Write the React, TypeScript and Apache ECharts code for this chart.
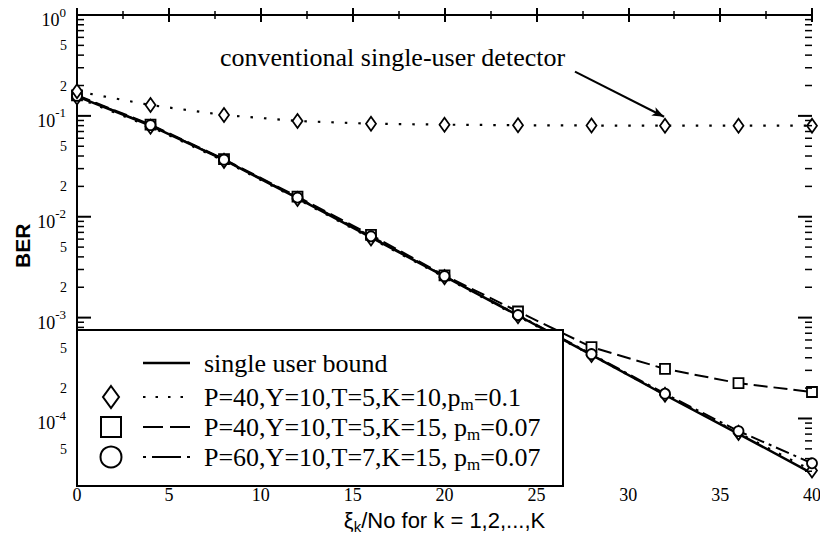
import React, { useEffect, useRef } from "react";
import * as echarts from "echarts";

// ---------------- data ----------------
const xValues = [0, 4, 8, 12, 16, 20, 24, 28, 32, 36, 40];
const berSingleUserBound = [0.156, 0.08, 0.0366, 0.0153, 0.00625, 0.00256, 0.00105, 0.000427, 0.000171, 0.0000705, 0.0000286];
const berP40K10 = [0.152, 0.078, 0.0358, 0.015, 0.0061, 0.00252, 0.00103, 0.000425, 0.000172, 0.000072, 0.0000305];
const berP40K15 = [0.16, 0.082, 0.0372, 0.0158, 0.0066, 0.00262, 0.00115, 0.00051, 0.00031, 0.000224, 0.000183];
const berP60K15 = [0.158, 0.081, 0.0368, 0.0155, 0.0064, 0.00258, 0.00106, 0.000435, 0.000176, 0.000075, 0.000036];
const berConventional = [0.175, 0.128, 0.102, 0.089, 0.0836, 0.0818, 0.0808, 0.0802, 0.08, 0.08, 0.08];

const legendLabels = [
  "single user bound",
  "P=40,Y=10,T=5,K=10,p{s|m}=0.1",
  "P=40,Y=10,T=5,K=15, p{s|m}=0.07",
  "P=60,Y=10,T=7,K=15, p{s|m}=0.07",
];
const annotationText = "conventional single-user detector";
const arrowFrom = [27.1, 0.275];
const arrowTo = [31.95, 0.098];

const xTickLabels = [0, 5, 10, 15, 20, 25, 30, 35, 40];
const yDecades = [0, -1, -2, -3, -4];
const yMinorMantissas = [2, 3, 4, 5, 6, 7, 8, 9];
const yLabelMantissas = [2, 5];
const berMin = 2.66e-5;
const berMax = 1;

// --------------- helpers ---------------
const SERIF = "Liberation Serif";
const SANS = "Liberation Sans";
const Y_MIN = Math.log10(berMin);
const Y_MAX = Math.log10(berMax);
const X_MIN = 0;
const X_MAX = 40;

const toPts = (arr: number[]) => xValues.map((x, i) => [x, Math.log10(arr[i])]);

const tickVals: number[] = [...yDecades];
const mantissaLabels: { v: number; m: number }[] = [];
for (let n = -1; n >= -5; n--) {
  yMinorMantissas.forEach((k) => {
    const v = n + Math.log10(k);
    if (v >= Y_MIN) tickVals.push(v);
  });
  yLabelMantissas.forEach((k) => {
    const v = n + Math.log10(k);
    if (v >= Y_MIN) mantissaLabels.push({ v, m: k });
  });
}

const isDecade = (v: number) => Math.abs(v - Math.round(v)) < 1e-6;

function buildOption() {
  const axisLine = { show: true, lineStyle: { color: "#000", width: 2 } };
  const markerStyle = { color: "#fff", borderColor: "#000", borderWidth: 1.8 };

  const legendRows = [363, 397, 427, 457];
  const lx0 = 143;
  const lx1 = 190;
  const mx = 111;
  const legendGraphics: any[] = [
    {
      type: "rect",
      shape: { x: 77, y: 330, width: 486, height: 156 },
      style: { fill: "#fff", stroke: "#000", lineWidth: 2 },
      z: 100,
    },
    {
      type: "line",
      shape: { x1: lx0, y1: legendRows[0], x2: lx1, y2: legendRows[0] },
      style: { stroke: "#000", lineWidth: 2.5 },
      z: 101,
    },
    {
      type: "line",
      shape: { x1: lx0, y1: legendRows[1], x2: lx1, y2: legendRows[1] },
      style: { stroke: "#000", lineWidth: 2.2, lineDash: [2.5, 10] },
      z: 101,
    },
    {
      type: "line",
      shape: { x1: lx0, y1: legendRows[2], x2: lx1, y2: legendRows[2] },
      style: { stroke: "#000", lineWidth: 2, lineDash: [20, 7] },
      z: 101,
    },
    {
      type: "line",
      shape: { x1: lx0, y1: legendRows[3], x2: lx1, y2: legendRows[3] },
      style: { stroke: "#000", lineWidth: 2, lineDash: [3, 6, 29, 6, 3] },
      z: 101,
    },
    {
      type: "polygon",
      shape: {
        points: [
          [mx, legendRows[1] - 11],
          [mx + 8, legendRows[1]],
          [mx, legendRows[1] + 11],
          [mx - 8, legendRows[1]],
        ],
      },
      style: { fill: "#fff", stroke: "#000", lineWidth: 2 },
      z: 101,
    },
    {
      type: "rect",
      shape: { x: mx - 10, y: legendRows[2] - 10, width: 20, height: 20 },
      style: { fill: "#fff", stroke: "#000", lineWidth: 2 },
      z: 101,
    },
    {
      type: "circle",
      shape: { cx: mx, cy: legendRows[3], r: 10.5 },
      style: { fill: "#fff", stroke: "#000", lineWidth: 2 },
      z: 101,
    },
    ...legendLabels.map((t, i) => ({
      type: "text",
      x: 204,
      y: legendRows[i],
      z: 101,
      style: {
        text: t,
        fill: "#000",
        fontFamily: SERIF,
        fontSize: 26,
        verticalAlign: "middle",
        align: "left",
        rich: {
          s: {
            fontFamily: SERIF,
            fontSize: 17,
            lineHeight: 17,
            padding: [14, 0, 0, 0],
            fill: "#000",
          },
        },
      },
    })),
    {
      type: "text",
      x: 220,
      y: 57,
      z: 101,
      style: {
        text: annotationText,
        fill: "#000",
        fontFamily: SERIF,
        fontSize: 26,
        verticalAlign: "middle",
        align: "left",
      },
    },
  ];

  const xAxisCommon = {
    type: "value",
    min: X_MIN,
    max: X_MAX,
    interval: 5,
    axisLine,
    splitLine: { show: false },
    axisTick: { show: true, inside: true, length: 7, lineStyle: { color: "#000", width: 2 } },
    minorTick: { show: true, splitNumber: 2, length: 4, lineStyle: { color: "#000", width: 1.5 } },
    axisLabel: { show: false },
  };
  const yAxisCommon = {
    type: "value",
    min: Y_MIN,
    max: Y_MAX,
    axisLine,
    splitLine: { show: false },
    axisTick: { show: false },
    axisLabel: { show: false },
  };

  return {
    animation: false,
    backgroundColor: "#fff",
    grid: { left: 77, right: 8, top: 15, bottom: 53, containLabel: false },
    xAxis: [
      {
        ...xAxisCommon,
        position: "bottom",
        name: "ξ{k|k}/No for k = 1,2,...,K",
        nameLocation: "middle",
        nameGap: 33,
        nameTextStyle: {
          color: "#000",
          fontFamily: SANS,
          fontSize: 22,
          rich: {
            k: { fontFamily: SANS, fontSize: 15, lineHeight: 15, padding: [12, 0, 0, 0], color: "#000" },
          },
        },
      },
      { ...xAxisCommon, position: "top" },
    ],
    yAxis: [
      {
        ...yAxisCommon,
        position: "left",
        name: "BER",
        nameLocation: "middle",
        nameRotate: 90,
        nameGap: 44,
        nameTextStyle: { color: "#000", fontFamily: SANS, fontSize: 21, fontWeight: "bold" },
      },
      { ...yAxisCommon, position: "right" },
    ],
    series: [
      {
        name: "single user bound",
        type: "line",
        data: toPts(berSingleUserBound),
        symbol: "none",
        lineStyle: { color: "#000", width: 2.5, type: "solid" },
        z: 2,
      },
      {
        name: "P=40,Y=10,T=5,K=10,pm=0.1",
        type: "line",
        data: toPts(berP40K10),
        symbol: "diamond",
        symbolSize: [10, 14],
        showAllSymbol: true,
        lineStyle: { color: "#000", width: 2.2, type: [2.5, 10], cap: "butt" },
        itemStyle: markerStyle,
        z: 3,
      },
      {
        name: "P=40,Y=10,T=5,K=15, pm=0.07",
        type: "line",
        data: toPts(berP40K15),
        symbol: "rect",
        symbolSize: 10,
        showAllSymbol: true,
        lineStyle: { color: "#000", width: 2, type: [14, 6] },
        itemStyle: markerStyle,
        z: 3,
      },
      {
        name: "P=60,Y=10,T=7,K=15, pm=0.07",
        type: "line",
        data: toPts(berP60K15),
        symbol: "circle",
        symbolSize: 10,
        showAllSymbol: true,
        lineStyle: { color: "#000", width: 2, type: [14, 5, 3, 5] },
        itemStyle: markerStyle,
        z: 3,
      },
      {
        name: "conventional single-user detector",
        type: "line",
        data: toPts(berConventional),
        symbol: "diamond",
        symbolSize: [10, 14],
        showAllSymbol: true,
        lineStyle: { color: "#000", width: 2.2, type: [2.5, 11], cap: "butt" },
        itemStyle: markerStyle,
        z: 3,
        markLine: {
          silent: true,
          symbol: ["none", "arrow"],
          symbolSize: [7, 12],
          label: { show: false },
          lineStyle: { color: "#000", width: 2, type: "solid" },
          data: [
            [
              { coord: [arrowFrom[0], Math.log10(arrowFrom[1])] },
              { coord: [arrowTo[0], Math.log10(arrowTo[1])] },
            ],
          ],
        },
      },
      // logarithmic y ticks on both sides, placed through the axis scales
      {
        name: "yTicks",
        type: "custom",
        silent: true,
        clip: false,
        data: tickVals.map((v) => [X_MIN, v]),
        encode: { x: 0, y: 1 },
        renderItem: (_p: any, api: any) => {
          const v = api.value(1);
          const len = isDecade(v) ? 14 : 7;
          const w = isDecade(v) ? 2 : 1.5;
          const l = api.coord([X_MIN, v]);
          const r = api.coord([X_MAX, v]);
          return {
            type: "group",
            children: [
              { type: "line", shape: { x1: l[0], y1: l[1], x2: l[0] + len, y2: l[1] }, style: { stroke: "#000", lineWidth: w } },
              { type: "line", shape: { x1: r[0] - len, y1: r[1], x2: r[0], y2: r[1] }, style: { stroke: "#000", lineWidth: w } },
            ],
          };
        },
        z: 4,
      },
    ],
    graphic: legendGraphics,
  };
}

// tick labels, positioned with the chart's own scales (convertToPixel)
function tickLabelGraphics(chart: any): any[] {
  const ctx = document.createElement("canvas").getContext("2d")!;
  const measure = (t: string, size: number) => {
    ctx.font = `${size}px "${SERIF}"`;
    return ctx.measureText(t).width;
  };
  const toPx = (x: number, y: number) => chart.convertToPixel({ xAxisIndex: 0, yAxisIndex: 0 }, [x, y]);
  const out: any[] = [];
  const txt = (text: string, x: number, y: number, size: number, align: string) => ({
    type: "text",
    x,
    y,
    z: 90,
    silent: true,
    style: { text, fill: "#000", fontFamily: SERIF, fontSize: size, align, verticalAlign: "middle" },
  });

  xTickLabels.forEach((x) => {
    const p = toPx(x, Y_MIN);
    out.push(txt(String(x), p[0], p[1] + 18, 18, "center"));
  });

  const right = toPx(X_MIN, 0)[0] - 11;
  yDecades.forEach((d) => {
    const p = toPx(X_MIN, d);
    const sup = String(d);
    const supW = measure(sup, 13);
    out.push(txt(sup, right, p[1] - 3, 13, "right"));
    out.push(txt("10", right - supW, p[1] + 5, 18, "right"));
  });
  mantissaLabels.forEach(({ v, m }) => {
    const p = toPx(X_MIN, v);
    out.push(txt(String(m), right + 1, p[1] + 0.5, 14, "right"));
  });
  return out;
}

export default function App() {
  const ref = useRef<HTMLDivElement>(null);
  useEffect(() => {
    if (!ref.current) return;
    const chart = echarts.init(ref.current, null, { renderer: "svg" });
    const option: any = buildOption();
    chart.setOption(option);
    chart.setOption({ graphic: [...option.graphic, ...tickLabelGraphics(chart)] });
    return () => chart.dispose();
  }, []);
  return (
    <div
      ref={ref}
      style={{ position: "fixed", left: 0, top: 0, width: 820, height: 539, background: "#fff" }}
    />
  );
}
